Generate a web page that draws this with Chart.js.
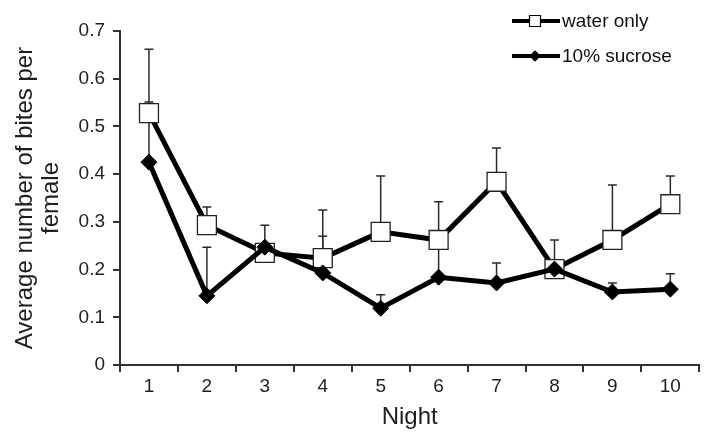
<!DOCTYPE html>
<html>
<head>
<meta charset="utf-8">
<script src="https://cdn.jsdelivr.net/npm/chart.js@4"></script>
<style>
  body { margin: 0; background: #fff; }
  #wrap { width: 714px; height: 445px; }
</style>
</head>
<body>
<div id="wrap"><canvas id="biteChart" width="714" height="445"></canvas></div>
<script>
// nights on the x axis
const nights = ['1', '2', '3', '4', '5', '6', '7', '8', '9', '10'];

// mean bites per female
const waterOnly = [0.528, 0.293, 0.235, 0.224, 0.279, 0.262, 0.384, 0.201, 0.262, 0.337];
const sucrose10 = [0.425, 0.145, 0.247, 0.193, 0.119, 0.184, 0.172, 0.201, 0.153, 0.159];

// upper error bars (amount above the mean)
const waterErr = [0.134, 0.038, 0.010, 0.101, 0.117, 0.080, 0.071, 0.061, 0.115, 0.059];
const sucroseErr = [0.126, 0.102, 0.046, 0.077, 0.028, 0.078, 0.042, 0.010, 0.019, 0.032];

// y axis ticks
const yTicks = [0, 0.1, 0.2, 0.3, 0.4, 0.5, 0.6, 0.7];

const FONT = "'Liberation Sans', Arial, sans-serif";
const INK = '#1e1e1e';

// error bars drawn under the markers
const errorBars = {
  id: 'errorBars',
  beforeDatasetsDraw(chart) {
    const ctx = chart.ctx;
    const x = chart.scales.x, y = chart.scales.y;
    ctx.save();
    ctx.strokeStyle = '#2a2a2a';
    ctx.lineWidth = 1.5;
    chart.data.datasets.forEach(ds => {
      ds.data.forEach((v, i) => {
        const px = x.getPixelForValue(i);
        const y0 = y.getPixelForValue(v);
        const y1 = y.getPixelForValue(v + ds.errUp[i]);
        ctx.beginPath();
        ctx.moveTo(px, y0);
        ctx.lineTo(px, y1);
        ctx.moveTo(px - 4.5, y1);
        ctx.lineTo(px + 4.5, y1);
        ctx.stroke();
      });
    });
    ctx.restore();
  }
};

// legend in the top right corner, line + marker + label
const lineLegend = {
  id: 'lineLegend',
  afterDraw(chart) {
    const ctx = chart.ctx;
    const rows = [
      { label: 'water only', y: 21, marker: 'square' },
      { label: '10% sucrose', y: 56, marker: 'diamond' }
    ];
    ctx.save();
    rows.forEach(r => {
      ctx.strokeStyle = '#000';
      ctx.lineWidth = 4;
      ctx.beginPath();
      ctx.moveTo(512, r.y);
      ctx.lineTo(560, r.y);
      ctx.stroke();
      ctx.lineWidth = 1.2;
      ctx.beginPath();
      if (r.marker === 'square') {
        ctx.fillStyle = '#fff';
        ctx.rect(529.5, r.y - 5.5, 11, 11);
      } else {
        ctx.fillStyle = '#000';
        ctx.moveTo(535, r.y - 5);
        ctx.lineTo(540, r.y);
        ctx.lineTo(535, r.y + 5);
        ctx.lineTo(530, r.y);
        ctx.closePath();
      }
      ctx.fill();
      ctx.stroke();
      ctx.fillStyle = '#111';
      ctx.font = '19px ' + FONT;
      ctx.textAlign = 'left';
      ctx.textBaseline = 'middle';
      ctx.fillText(r.label, 562, r.y + 1);
    });
    ctx.restore();
  }
};

new Chart(document.getElementById('biteChart'), {
  type: 'line',
  data: {
    labels: nights,
    datasets: [
      {
        label: 'water only',
        data: waterOnly,
        errUp: waterErr,
        order: 2,
        borderColor: '#000',
        borderWidth: 5,
        pointStyle: 'rect',
        pointRadius: 13.4,
        pointBackgroundColor: '#fff',
        pointBorderColor: '#222',
        pointBorderWidth: 1.3,
        tension: 0
      },
      {
        label: '10% sucrose',
        data: sucrose10,
        errUp: sucroseErr,
        order: 1,
        borderColor: '#000',
        borderWidth: 5,
        pointStyle: 'rectRot',
        pointRadius: 8,
        pointBackgroundColor: '#000',
        pointBorderColor: '#000',
        pointBorderWidth: 1,
        tension: 0
      }
    ]
  },
  options: {
    responsive: false,
    animation: false,
    devicePixelRatio: 1,
    layout: { padding: { top: 31, right: 14, left: 0, bottom: 0 } },
    plugins: {
      legend: { display: false },
      tooltip: { enabled: false }
    },
    scales: {
      x: {
        type: 'category',
        offset: true,
        afterFit: s => { s.height = 80; },
        grid: { display: true, offset: true, drawOnChartArea: false, drawTicks: true, tickLength: 7, color: '#333', lineWidth: 2 },
        border: { display: true, color: '#333', width: 2 },
        ticks: { color: INK, font: { family: FONT, size: 19 }, padding: 3, maxRotation: 0, autoSkip: false },
        title: { display: true, text: 'Night', color: INK, font: { family: FONT, size: 24 }, padding: { top: 0, bottom: 13 } }
      },
      y: {
        min: 0,
        max: 0.7,
        afterFit: s => { s.width = 120; },
        afterBuildTicks: s => { s.ticks = yTicks.map(v => ({ value: v })); },
        grid: { display: true, drawOnChartArea: false, drawTicks: true, tickLength: 7, color: '#333', lineWidth: 2 },
        border: { display: true, color: '#333', width: 2 },
        ticks: { color: INK, font: { family: FONT, size: 19 }, padding: 8, callback: v => String(+v.toFixed(1)) },
        title: {
          display: true,
          text: ['Average number of bites per', 'female'],
          color: INK,
          font: { family: FONT, size: 24, lineHeight: 1.1 },
          padding: { top: 12, bottom: 0 }
        }
      }
    }
  },
  plugins: [errorBars, lineLegend]
});
</script>
</body>
</html>
